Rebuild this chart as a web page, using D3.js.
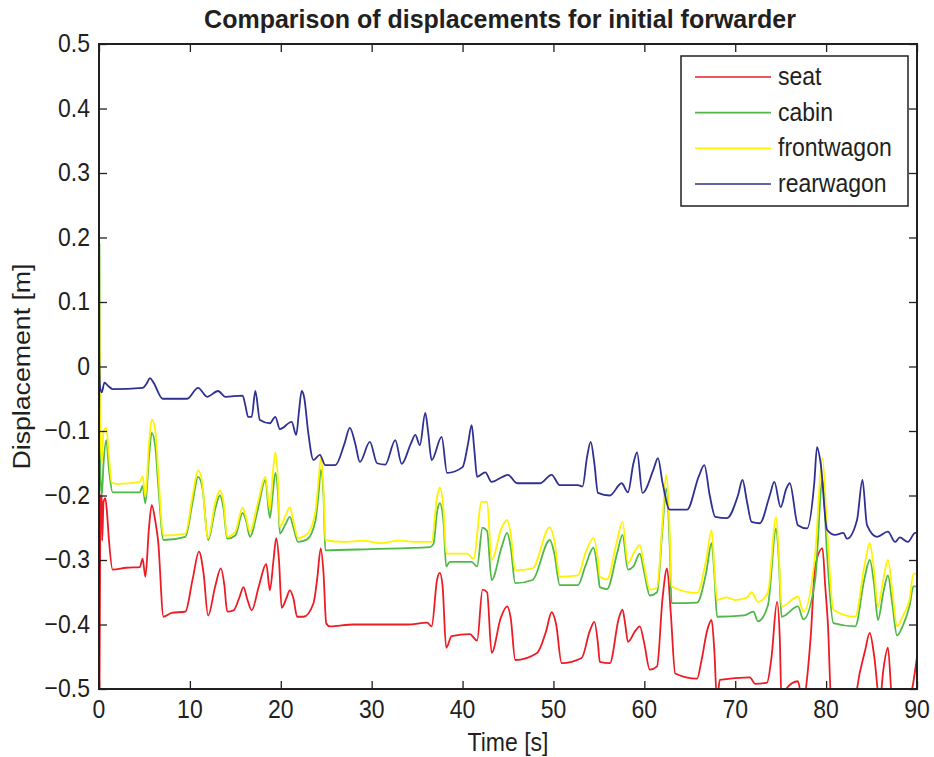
<!DOCTYPE html>
<html>
<head>
<meta charset="utf-8">
<script src="https://cdn.jsdelivr.net/npm/d3@7"></script>
<style>
  html, body { margin: 0; padding: 0; background: #fff; }
  svg text { font-family: "Liberation Sans", Arial, Helvetica, sans-serif; fill: #231f20; }
</style>
</head>
<body>
<svg id="chart" width="934" height="757"></svg>
<script>
// Vertical displacement of the forwarder parts over a 90 s run (sampled knots)
const seatT = [0, 0.05, 0.15, 0.3, 0.35, 0.5, 0.7, 0.9, 1.1, 1.5, 3, 4.5, 4.8, 5.1, 5.5, 5.8, 6.2, 6.5, 7.1, 8, 9.5, 10.3, 11, 11.5, 12, 12.8, 13.4, 13.8, 14.1, 14.8, 15.4, 15.9, 16.3, 16.8, 17.6, 18.4, 18.8, 19.2, 19.5, 19.8, 20.1, 20.6, 21, 21.4, 21.8, 22.5, 23.6, 24, 24.4, 24.7, 25, 25.4, 28, 31, 34, 36.1, 36.6, 37.2, 37.5, 37.8, 38.2, 38.8, 40.8, 41.6, 42.2, 42.7, 43.2, 44.2, 44.9, 45.3, 45.8, 48.2, 49.2, 49.8, 50.3, 50.9, 53.1, 54, 54.5, 54.9, 55.1, 56.2, 57.2, 57.6, 57.9, 58.2, 59, 59.5, 60, 60.6, 61.4, 62, 62.5, 62.9, 63.4, 65.8, 66.3, 66.9, 67.4, 67.7, 68, 68.3, 71.6, 72.2, 73.5, 74, 74.6, 74.9, 75.1, 75.7, 76.9, 77.4, 78.3, 78.8, 79.6, 79.9, 80.2, 80.6, 83, 83.4, 84.3, 84.8, 85.3, 85.9, 86.3, 86.8, 87.3, 89, 90];
const seatY = [0.21, -0.52, -0.21, -0.197, -0.27, -0.21, -0.204, -0.23, -0.27, -0.315, -0.312, -0.311, -0.298, -0.326, -0.25, -0.215, -0.24, -0.27, -0.388, -0.382, -0.38, -0.33, -0.287, -0.32, -0.386, -0.34, -0.313, -0.34, -0.38, -0.378, -0.36, -0.342, -0.36, -0.378, -0.34, -0.306, -0.347, -0.3, -0.266, -0.3, -0.374, -0.36, -0.347, -0.36, -0.388, -0.388, -0.367, -0.33, -0.282, -0.32, -0.398, -0.403, -0.4, -0.4, -0.4, -0.397, -0.403, -0.33, -0.32, -0.34, -0.436, -0.418, -0.415, -0.425, -0.346, -0.35, -0.444, -0.39, -0.372, -0.39, -0.455, -0.444, -0.41, -0.381, -0.4, -0.46, -0.452, -0.41, -0.396, -0.43, -0.458, -0.46, -0.39, -0.377, -0.4, -0.427, -0.41, -0.403, -0.43, -0.47, -0.465, -0.36, -0.313, -0.38, -0.476, -0.484, -0.455, -0.41, -0.393, -0.44, -0.52, -0.486, -0.482, -0.492, -0.49, -0.45, -0.365, -0.42, -0.52, -0.498, -0.488, -0.52, -0.42, -0.31, -0.282, -0.34, -0.4, -0.53, -0.55, -0.5, -0.44, -0.413, -0.45, -0.52, -0.47, -0.436, -0.52, -0.52, -0.45];

const cabinT = [0, 0.05, 0.12, 0.3, 0.5, 0.8, 1.1, 1.5, 4.5, 4.8, 5.1, 5.5, 5.8, 6.2, 6.5, 7.1, 9.5, 10.3, 10.9, 11.4, 12, 12.8, 13.3, 13.7, 14.1, 15, 15.8, 16.2, 16.6, 17.5, 18.3, 18.8, 19.1, 19.4, 19.7, 19.9, 20.5, 21, 21.4, 21.9, 22.9, 23.8, 24.2, 24.4, 24.7, 24.9, 30, 36.4, 36.8, 37.2, 37.5, 37.9, 38.2, 38.6, 41, 41.6, 42.2, 42.7, 43.2, 44.3, 44.9, 45.3, 45.8, 47.7, 49.6, 50.1, 50.7, 52.7, 53.5, 54.4, 54.9, 55.1, 55.9, 57, 57.6, 58.2, 58.8, 59.5, 60, 60.6, 61.4, 62, 62.4, 62.8, 63, 65.8, 66.8, 67.4, 67.7, 68, 71, 72, 72.5, 73.6, 74.5, 74.8, 75.1, 76.9, 77.5, 78.8, 79.6, 80.1, 80.8, 83.2, 84.2, 84.8, 85.3, 85.7, 86.3, 86.8, 87.3, 87.8, 88.5, 89.2, 89.6, 90];
const cabinY = [-0.52, 0.19, -0.15, -0.2, -0.15, -0.114, -0.16, -0.195, -0.195, -0.185, -0.212, -0.14, -0.103, -0.125, -0.18, -0.269, -0.264, -0.21, -0.171, -0.19, -0.269, -0.22, -0.2, -0.22, -0.267, -0.262, -0.227, -0.24, -0.264, -0.22, -0.176, -0.235, -0.2, -0.165, -0.2, -0.259, -0.245, -0.233, -0.25, -0.272, -0.268, -0.24, -0.19, -0.16, -0.2, -0.285, -0.283, -0.28, -0.275, -0.225, -0.212, -0.24, -0.31, -0.303, -0.303, -0.31, -0.25, -0.255, -0.331, -0.28, -0.258, -0.28, -0.336, -0.331, -0.269, -0.29, -0.339, -0.339, -0.31, -0.281, -0.32, -0.342, -0.345, -0.29, -0.261, -0.315, -0.31, -0.29, -0.32, -0.355, -0.35, -0.25, -0.189, -0.28, -0.367, -0.366, -0.32, -0.274, -0.32, -0.388, -0.386, -0.38, -0.395, -0.37, -0.251, -0.3, -0.388, -0.372, -0.392, -0.33, -0.176, -0.29, -0.398, -0.403, -0.33, -0.3, -0.34, -0.393, -0.35, -0.324, -0.37, -0.417, -0.4, -0.37, -0.341, -0.341];

const frontT = [0, 0.08, 0.3, 0.5, 0.8, 1.1, 1.4, 2, 4.5, 4.8, 5.1, 5.5, 5.8, 6.2, 6.5, 7.1, 9.5, 10.3, 10.9, 11.3, 12, 12.8, 13.3, 13.7, 14.1, 15, 15.8, 16.2, 16.6, 17.5, 18.3, 18.8, 19.1, 19.4, 19.7, 19.9, 20.5, 21, 21.4, 21.9, 22.9, 23.8, 24.2, 24.4, 24.7, 24.9, 27, 29, 31, 33, 35, 36.6, 37.2, 37.5, 37.9, 38.2, 40.5, 41.2, 42.1, 42.7, 43.2, 44.3, 44.9, 45.3, 45.8, 47.7, 49.6, 50.1, 50.7, 52.7, 53.5, 54.4, 54.9, 55.1, 55.9, 57, 57.6, 58.2, 58.8, 59.5, 60, 60.6, 61.4, 62, 62.4, 62.8, 63, 65.8, 66.8, 67.4, 67.7, 68, 69, 70, 71.3, 71.8, 72.5, 73.6, 74.5, 74.8, 75.1, 76.9, 77.5, 78.8, 79.6, 80.1, 80.8, 83.2, 84.2, 84.8, 85.3, 85.7, 86.3, 86.8, 87.3, 87.8, 88.5, 89.2, 89.6, 90];
const frontY = [0.22, -0.04, -0.15, -0.1, -0.095, -0.14, -0.18, -0.182, -0.179, -0.17, -0.202, -0.12, -0.082, -0.1, -0.16, -0.262, -0.259, -0.2, -0.161, -0.175, -0.266, -0.21, -0.192, -0.21, -0.264, -0.256, -0.219, -0.235, -0.256, -0.21, -0.171, -0.222, -0.17, -0.133, -0.18, -0.249, -0.232, -0.218, -0.24, -0.266, -0.26, -0.226, -0.17, -0.142, -0.19, -0.269, -0.272, -0.27, -0.274, -0.27, -0.272, -0.272, -0.202, -0.188, -0.22, -0.29, -0.29, -0.298, -0.21, -0.21, -0.3, -0.25, -0.238, -0.26, -0.316, -0.313, -0.249, -0.27, -0.326, -0.324, -0.29, -0.266, -0.3, -0.326, -0.33, -0.27, -0.241, -0.305, -0.29, -0.277, -0.31, -0.346, -0.343, -0.24, -0.168, -0.26, -0.341, -0.351, -0.3, -0.254, -0.31, -0.362, -0.358, -0.362, -0.358, -0.35, -0.365, -0.35, -0.233, -0.29, -0.372, -0.357, -0.38, -0.29, -0.142, -0.25, -0.377, -0.388, -0.31, -0.274, -0.32, -0.372, -0.33, -0.3, -0.35, -0.403, -0.385, -0.36, -0.321, -0.321];

const rearT = [0, 0.1, 0.3, 0.6, 1, 1.5, 4.8, 5.3, 5.6, 6, 7, 9.7, 10.9, 11.9, 13.1, 13.9, 15.8, 16.1, 16.4, 16.8, 17.2, 17.7, 18.8, 19.4, 19.9, 21.2, 21.7, 22, 22.3, 22.6, 23, 23.6, 24.3, 24.9, 26, 27, 27.6, 28.2, 28.7, 29.8, 30.6, 31.5, 32.6, 33.3, 34.3, 34.8, 35.3, 35.9, 36.2, 36.6, 37.7, 38.3, 40, 40.6, 41, 41.3, 41.6, 42.5, 43.2, 44.4, 45, 46, 48.5, 49.8, 50.7, 52.7, 53.2, 53.7, 54.1, 54.5, 54.9, 56.2, 57.5, 58.2, 58.8, 59.2, 59.8, 61, 61.5, 62, 62.8, 64.7, 66, 66.6, 67.2, 67.8, 69.1, 70.3, 70.8, 71.3, 71.8, 72.7, 73.8, 74.3, 75, 75.6, 76, 76.9, 77.9, 78.7, 79, 79.4, 80.1, 81, 81.9, 82.3, 83.4, 84, 84.5, 85.6, 86.8, 87.6, 88.1, 89, 89.8, 90];
const rearY = [0.03, -0.03, -0.04, -0.025, -0.03, -0.035, -0.033, -0.025, -0.018, -0.025, -0.05, -0.05, -0.033, -0.047, -0.038, -0.047, -0.045, -0.06, -0.078, -0.078, -0.038, -0.083, -0.088, -0.078, -0.097, -0.086, -0.106, -0.07, -0.038, -0.05, -0.1, -0.145, -0.137, -0.153, -0.153, -0.12, -0.095, -0.12, -0.148, -0.117, -0.15, -0.152, -0.114, -0.151, -0.12, -0.106, -0.122, -0.072, -0.1, -0.145, -0.109, -0.165, -0.156, -0.12, -0.091, -0.13, -0.171, -0.164, -0.179, -0.171, -0.168, -0.181, -0.181, -0.168, -0.184, -0.184, -0.186, -0.14, -0.117, -0.15, -0.196, -0.2, -0.181, -0.195, -0.15, -0.133, -0.196, -0.16, -0.142, -0.18, -0.222, -0.222, -0.17, -0.153, -0.2, -0.233, -0.235, -0.2, -0.176, -0.21, -0.241, -0.243, -0.2, -0.179, -0.218, -0.19, -0.181, -0.246, -0.251, -0.18, -0.125, -0.15, -0.253, -0.261, -0.258, -0.267, -0.238, -0.176, -0.246, -0.264, -0.256, -0.272, -0.265, -0.272, -0.258, -0.258];

const seriesNames = ["seat", "cabin", "frontwagon", "rearwagon"];
const seriesColors = ["#ed1c24", "#4fb848", "#fff200", "#2e3192"];
const xTicks = [0, 10, 20, 30, 40, 50, 60, 70, 80, 90];
const yTicks = [0.5, 0.4, 0.3, 0.2, 0.1, 0, -0.1, -0.2, -0.3, -0.4, -0.5];

const chartTitle = "Comparison of displacements for initial forwarder";
const xTitle = "Time [s]";
const yTitle = "Displacement [m]";

const series = [
  { t: seatT, y: seatY },
  { t: cabinT, y: cabinY },
  { t: frontT, y: frontY },
  { t: rearT, y: rearY }
].map((s, i) => ({
  name: seriesNames[i],
  color: seriesColors[i],
  points: s.t.map((t, k) => ({ t, v: s.y[k] }))
}));

const svg = d3.select("#chart");
const margin = { left: 99, top: 44, right: 934 - 917, bottom: 757 - 689 };
const W = 934 - margin.left - margin.right;
const H = 757 - margin.top - margin.bottom;
const ink = "#231f20";
const sy = 1.16; // text is drawn slightly taller than wide

const x = d3.scaleLinear().domain([0, 90]).range([0, W]);
const y = d3.scaleLinear().domain([-0.5, 0.5]).range([H, 0]);

const g = svg.append("g").attr("transform", `translate(${margin.left},${margin.top})`);

g.append("clipPath").attr("id", "plot-clip")
  .append("rect").attr("x", 0).attr("y", 0).attr("width", W).attr("height", H);

// data lines
const line = d3.line().x(d => x(d.t)).y(d => y(d.v)).curve(d3.curveMonotoneX);
const lines = g.append("g").attr("clip-path", "url(#plot-clip)");
series.forEach(s => {
  lines.append("path")
    .datum(s.points)
    .attr("d", line)
    .attr("fill", "none")
    .attr("stroke", s.color)
    .attr("stroke-width", 1.8)
    .attr("stroke-linejoin", "round");
});

// axes: inward ticks on all four sides
const tickLen = 8;
const fmt = d => (d === 0 ? "0" : d3.format(".1f")(d));
const axL = g.append("g").call(d3.axisLeft(y).tickValues(yTicks).tickSize(-tickLen).tickFormat(""));
const axR = g.append("g").attr("transform", `translate(${W},0)`).call(d3.axisRight(y).tickValues(yTicks).tickSize(-tickLen).tickFormat(""));
const axB = g.append("g").attr("transform", `translate(0,${H})`).call(d3.axisBottom(x).tickValues(xTicks).tickSize(-tickLen).tickFormat(""));
const axT = g.append("g").call(d3.axisTop(x).tickValues(xTicks).tickSize(-tickLen).tickFormat(""));
[axL, axR, axB, axT].forEach(a => {
  a.select(".domain").remove();
  a.selectAll(".tick line").attr("stroke", ink).attr("stroke-width", 1.3);
});

// frame
g.append("rect").attr("x", 0).attr("y", 0).attr("width", W).attr("height", H)
  .attr("fill", "none").attr("stroke", ink).attr("stroke-width", 2);

// tick labels
g.append("g").selectAll("text").data(yTicks).join("text")
  .attr("transform", d => `translate(-9,${y(d) + 8}) scale(1,${sy})`)
  .attr("text-anchor", "end")
  .attr("font-size", 23)
  .text(fmt);

g.append("g").selectAll("text").data(xTicks).join("text")
  .attr("transform", d => `translate(${x(d)},${H + 29}) scale(1,${sy})`)
  .attr("text-anchor", "middle")
  .attr("font-size", 23)
  .text(d => d);

// axis titles
svg.append("text")
  .attr("transform", `translate(${margin.left + W / 2},751) scale(1,${sy})`)
  .attr("text-anchor", "middle").attr("font-size", 23).text(xTitle);

svg.append("text")
  .attr("transform", `translate(30,${margin.top + H / 2}) rotate(-90) scale(${sy},1)`)
  .attr("text-anchor", "middle").attr("font-size", 23).text(yTitle);

// chart title
svg.append("text")
  .attr("transform", `translate(${margin.left + W / 2 - 8},28)`)
  .attr("text-anchor", "middle").attr("font-size", 25).attr("font-weight", "bold")
  .text(chartTitle);

// legend
const lg = svg.append("g").attr("transform", "translate(681,56)");
lg.append("rect").attr("width", 227).attr("height", 150)
  .attr("fill", "#fff").attr("stroke", ink).attr("stroke-width", 1.5);
const rowY = d3.scalePoint().domain(seriesNames).range([21, 128]);
series.forEach(s => {
  lg.append("line")
    .attr("x1", 14).attr("x2", 90)
    .attr("y1", rowY(s.name)).attr("y2", rowY(s.name))
    .attr("stroke", s.color).attr("stroke-width", 1.6);
  lg.append("text")
    .attr("transform", `translate(97,${rowY(s.name) + 8}) scale(1,${sy})`)
    .attr("font-size", 23)
    .text(s.name);
});
</script>
</body>
</html>
